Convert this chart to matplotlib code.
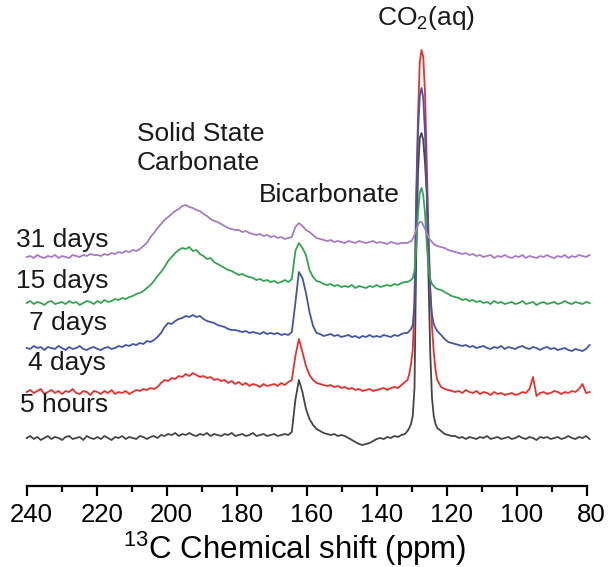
import numpy as np
import matplotlib
matplotlib.use("Agg")
import matplotlib.pyplot as plt
from matplotlib.transforms import ScaledTranslation

plt.rcParams['font.family'] = ['Liberation Sans', 'DejaVu Sans']
plt.rcParams['mathtext.fontset'] = 'custom'
plt.rcParams['mathtext.rm'] = 'Liberation Sans'

# sampling grid (ppm): coarse left part, fine CO2 region, coarse right part
ppm = np.concatenate([240 - 1.01 * np.arange(108),
                      131.2 - 0.5 * np.arange(18),
                      121.6 - 1.01 * np.arange(43)])

labels = ["5 hours", "4 days", "7 days", "15 days", "31 days"]
colors = ["#454545", "#e8312f", "#4455a8", "#35a451", "#a67cc4"]

hours5 = [0, 2, -1, 1, -2, 0, 2, -1, 1, 0,
          -2, 1, 2, -1, 0, 1, -2, 2, 0, -1,
          1, -1, 2, 0, -2, 1, 0, 2, -1, 1,
          0, -1, 2, 1, -1, 1, 2, 0, 3, 2,
          4, 3, 5, 2, 4, 3, 5, 3, 2, 4,
          3, 5, 2, 4, 3, 2, 4, 3, 5, 2,
          3, 4, 2, 3, 5, 2, 3, 4, 2, 3,
          4, 2, 3, 4, 3, 6, 38, 58, 46, 29,
          19, 13, 9, 7, 5, 4, 3, 4, 2, 3,
          2, 0, -2, -4, -6, -7, -6, -5, -3, -1,
          0, -1, 1, 0, 2, 1, 3, 4,
          7, 10, 14, 22, 50, 185, 265, 300, 305, 298, 275, 245, 160, 85, 40, 22, 14, 10,
          7, 4, 3, 2, 2, 0, 1, -1, 1, 0,
          -1, 1, 0, 2, -1, 0, 1, -1, 0, 1,
          -1, 0, 2, 0, -1, 1, 0, -2, 1, 0,
          1, -1, 0, 1, -1, 0, 2, 0, -1, 1,
          0, 2, -1]

days4 = [0, 2, -1, 1, 3, -2, 0, 2, -1, 1,
         -2, 1, 0, 3, -1, -2, 1, 0, -3, 1,
         0, -2, 1, -1, 2, -2, 0, -1, 1, -2,
         0, 2, 1, 3, 2, 4, 3, 5, 9, 12,
         11, 14, 13, 16, 15, 18, 16, 19, 17, 15,
         16, 14, 15, 12, 13, 11, 12, 9, 11, 8,
         10, 7, 9, 6, 8, 7, 5, 8, 6, 7,
         8, 6, 9, 7, 10, 12, 36, 53, 40, 26,
         17, 12, 9, 8, 7, 6, 7, 5, 6, 4,
         5, 3, 4, 2, 3, 1, 2, 3, 1, 2,
         3, 4, 2, 4, 5, 4, 7, 10,
         12, 18, 28, 42, 90, 200, 275, 330, 342, 335, 300, 230, 160, 105, 65, 40, 22, 12,
         5, 3, 2, 1, 0, 1, -1, 2, 0, -1,
         1, -2, 0, -1, -3, 0, -2, -1, -3, -2,
         -1, -3, -2, 0, -1, 3, 15, -4, -1, 0,
         -2, -1, 1, 0, -2, 0, -1, 1, 0, 3,
         8, -1, 0]

days7 = [0, -1, 2, 0, 1, -2, 1, 0, -1, 2,
         0, -2, 1, -1, 0, 2, -1, -2, 0, 1,
         -1, -2, 0, 1, -1, 0, 2, 1, 3, 2,
         4, 3, 5, 4, 7, 6, 8, 11, 15, 21,
         25, 24, 27, 29, 30, 32, 31, 33, 31, 32,
         29, 27, 26, 25, 23, 22, 21, 19, 18, 18,
         17, 16, 17, 15, 16, 15, 14, 16, 14, 15,
         14, 15, 13, 14, 13, 16, 45, 76, 70, 55,
         36, 22, 15, 14, 12, 13, 14, 12, 13, 11,
         12, 13, 11, 12, 10, 12, 11, 13, 11, 12,
         11, 13, 12, 11, 13, 12, 14, 15,
         15, 17, 19, 23, 45, 140, 215, 252, 260, 250, 215, 160, 100, 55, 33, 24, 20, 17,
         13, 9, 6, 5, 4, 3, 2, 3, 1, 2,
         0, 1, 2, 0, -1, 1, 0, 2, -1, 1,
         0, -1, 1, 2, 0, -1, 1, 0, -2, 0,
         1, -1, 0, -2, -1, 0, -2, -3, -1, -2,
         -3, -1, 3]

days15 = [0, 2, -1, 1, 0, -2, 1, 2, -1, 0,
          1, -1, 2, 0, 1, -2, 0, 2, 1, -1,
          2, 0, 3, 1, 2, 4, 3, 5, 4, 6,
          7, 9, 10, 12, 15, 18, 22, 27, 31, 36,
          42, 46, 50, 53, 55, 54, 56, 52, 53, 49,
          47, 44, 45, 41, 39, 37, 35, 33, 32, 30,
          28, 29, 27, 26, 25, 23, 24, 22, 23, 21,
          22, 20, 21, 23, 21, 24, 52, 60, 55, 48,
          33, 26, 22, 21, 19, 18, 19, 17, 18, 16,
          17, 16, 18, 15, 17, 16, 15, 17, 16, 18,
          16, 17, 18, 17, 19, 18, 20, 21,
          21, 22, 23, 25, 32, 55, 90, 110, 115, 108, 90, 60, 35, 24, 19, 17, 15, 14,
          13, 11, 9, 7, 6, 5, 3, 4, 2, 3,
          1, 2, 0, 1, -1, 2, 0, 1, -1, 0,
          1, -1, 0, 2, -1, 0, 1, -2, 0, 1,
          -1, 0, 1, -1, 0, 2, 0, -1, 1, 0,
          -1, 1, 0]

days31 = [0, 1, -1, 2, 0, -1, 1, 0, 2, -1,
          1, 0, -1, 2, 1, 0, 2, 1, 3, 2,
          2, 1, 3, 2, 4, 3, 5, 4, 6, 5,
          7, 6, 8, 11, 14, 20, 24, 29, 33, 37,
          40, 43, 46, 48, 51, 52, 50, 49, 47, 46,
          43, 41, 38, 36, 35, 33, 31, 29, 28, 27,
          27, 25, 26, 24, 23, 22, 23, 21, 22, 20,
          21, 19, 20, 18, 19, 20, 30, 34, 31, 27,
          25, 22, 19, 18, 17, 16, 17, 15, 16, 15,
          14, 16, 15, 14, 16, 15, 14, 15, 16, 14,
          15, 14, 13, 15, 14, 13, 14, 14,
          14, 15, 16, 18, 22, 27, 32, 35, 35, 32, 28, 24, 20, 17, 15, 13, 12, 11,
          10, 9, 7, 6, 5, 4, 3, 4, 2, 3,
          1, 2, 0, 1, 2, -1, 1, 0, 2, 0,
          -1, 1, 0, 2, -1, 1, 0, -1, 1, 0,
          2, 0, -1, 1, 0, 2, -1, 1, 0, 2,
          1, 0, 2]

series = [hours5, days4, days7, days15, days31]
offsets = [0, 46, 90, 135, 181]

W, H = 611, 567
fig = plt.figure(figsize=(W / 100, H / 100), dpi=100)
ax = fig.add_axes([26.7 / W, (H - 486) / H, 560 / W, 446 / H])

for vals, off, c in zip(series, offsets, colors):
    ax.plot(ppm, np.array(vals) + off, color=c, lw=1.3, clip_on=False)

ax.set_xlim(240, 80)
ax.set_ylim(-48, 398)
for s in ['top', 'left', 'right']:
    ax.spines[s].set_visible(False)
ax.spines['bottom'].set_linewidth(1.6)
ax.set_yticks([])
ax.set_xticks(np.arange(240, 79, -20))
ax.set_xticks(np.arange(230, 80, -20), minor=True)
ax.tick_params(axis='x', which='major', length=7, width=1.6, labelsize=18.5, pad=5, direction='out')
ax.tick_params(axis='x', which='minor', length=4, width=1.6, direction='out')
shift = ScaledTranslation(5 / 100, 0, fig.dpi_scale_trans)
for lab in ax.get_xticklabels():
    lab.set_transform(lab.get_transform() + shift)
ax.set_xlabel(r"$\mathregular{^{13}}$C Chemical shift (ppm)", fontsize=22.5)
ax.xaxis.set_label_coords((295 - 26.7) / 560, -0.098)

def ftext(x, y, s, **kw):
    fig.text(x / W, 1 - y / H, s, va='baseline', fontsize=19, color='#1a1a1a', **kw)

ftext(426, 25, r"CO$\mathregular{_2}$(aq)", ha='center')
ftext(137, 141, "Solid State", ha='left')
ftext(137, 170, "Carbonate", ha='left')
ftext(259, 202, "Bicarbonate", ha='left')
label_pos = [(108, 412), (106, 370), (107, 330), (108, 288), (108, 247)]
for (x, y), lab in zip(label_pos, labels):
    ftext(x, y, lab, ha='right')

fig.savefig("out.png", dpi=100)
